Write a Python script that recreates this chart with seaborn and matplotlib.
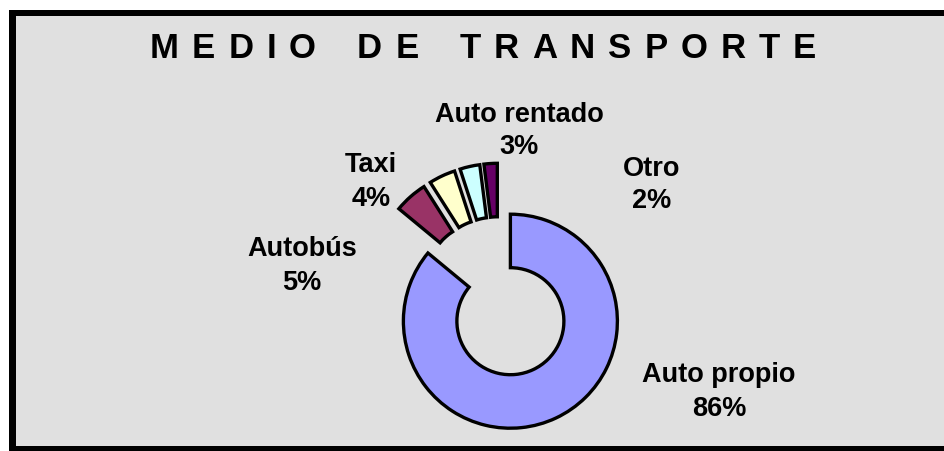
import matplotlib
matplotlib.use("Agg")
import matplotlib.pyplot as plt
import seaborn as sns
from matplotlib.patches import Rectangle

# data
categories = ["Auto propio", "Autobús", "Taxi", "Auto rentado", "Otro"]
shares = [86, 5, 4, 3, 2]
slice_colors = ["#9999FF", "#993366", "#FFFFCC", "#CCFFFF", "#660066"]
title_words = ["MEDIO", "DE", "TRANSPORTE"]

# layout (pixels in the 945x451 picture)
W, H = 945, 451
CX, CY, R = 499, 297, 107
label_pos = [(719, 392), (302, 266), (371, 182), (519, 131), (652, 185)]

sns.set_theme(style="white")
plt.rcParams["font.family"] = ["Liberation Sans", "DejaVu Sans"]

fig = plt.figure(figsize=(W / 100, H / 100), dpi=100)
fig.patch.set_facecolor("white")

# marble-ish plot area and the black frame (left, top, bottom)
fig.patches.append(Rectangle((9 / W, 0), 1, 1 - 10 / H, transform=fig.transFigure,
                             facecolor="#e0e0e0", edgecolor="none", zorder=-3))
for x0, y0, w, h in [(9, 10, 7, 441), (9, 10, 936, 6), (9, 446, 936, 5)]:
    fig.patches.append(Rectangle((x0 / W, 1 - (y0 + h) / H), w / W, h / H,
                                 transform=fig.transFigure, facecolor="black",
                                 edgecolor="none", zorder=-2))

ax = fig.add_axes([0, 0, 1, 1])
ax.set_facecolor("none")
ax.pie(shares, colors=slice_colors, startangle=90, counterclock=False,
       explode=[0.25] * len(shares), radius=1,
       wedgeprops=dict(width=0.5, edgecolor="black", linewidth=2.4))
ax.set_aspect("auto")
ax.set_xlim(-CX / R, (W - CX) / R)
ax.set_ylim((CY - H) / R, CY / R)
ax.axis("off")

for name, pct, (px, py) in zip(categories, shares, label_pos):
    fig.text(px / W, 1 - py / H, f"{name}\n{pct}%", ha="center", va="center",
             multialignment="center", fontsize=19.5, fontweight="bold",
             linespacing=1.35, color="black")

# spaced-out title, letter by letter
fig.canvas.draw()
renderer = fig.canvas.get_renderer()
x = 150
for word in title_words:
    for ch in word:
        t = fig.text(x / W, 1 - 58 / H, ch, ha="left", va="baseline",
                     fontsize=25, fontweight="bold", color="black")
        x += t.get_window_extent(renderer).width + 13
    x += 28

fig.savefig("out.png", dpi=100)
